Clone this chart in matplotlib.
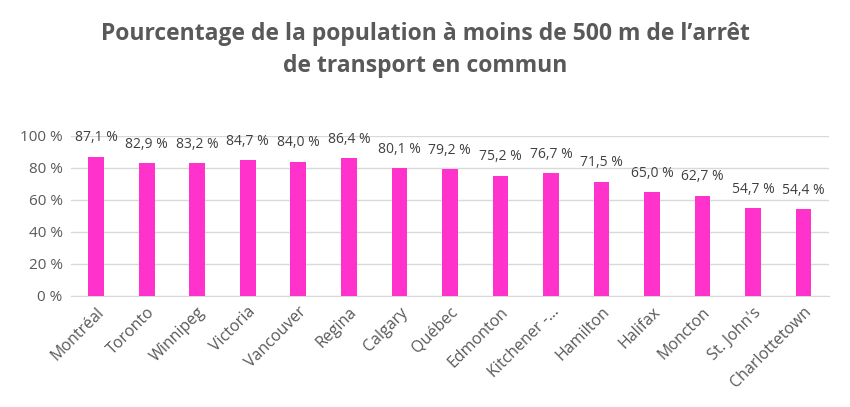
import matplotlib.pyplot as plt
import numpy as np

villes = ["Montréal", "Toronto", "Winnipeg", "Victoria", "Vancouver", "Regina",
          "Calgary", "Québec", "Edmonton", "Kitchener -...", "Hamilton", "Halifax",
          "Moncton", "St. John's", "Charlottetown"]
pourcentages = [87.1, 82.9, 83.2, 84.7, 84.0, 86.4, 80.1, 79.2, 75.2, 76.7,
                71.5, 65.0, 62.7, 54.7, 54.4]

plt.rcParams['font.family'] = ['Open Sans', 'DejaVu Sans']

fig = plt.figure(figsize=(8.5, 4.07), dpi=100)
ax = fig.add_axes([0.0835, 0.273, 0.8915, 0.393])

x = np.arange(len(villes))
ax.bar(x, pourcentages, width=0.31, color='#FF33CC', zorder=3)

for xi, v in zip(x, pourcentages):
    lab = f"{v:.1f}".replace(".", ",") + " %"
    ax.annotate(lab, (xi, v), xytext=(0, 8), textcoords='offset points',
                ha='center', va='bottom', fontsize=10, color='#404040')

ax.set_xlim(-0.5, len(villes) - 0.5)
ax.set_ylim(0, 100)
ax.set_yticks(range(0, 101, 20))
ax.set_yticklabels([f"{t} %" for t in range(0, 101, 20)], fontsize=11, color='#595959')
ax.set_xticks(x)
ax.set_xticklabels(villes, rotation=45, ha='right', rotation_mode='anchor',
                   fontsize=11.5, color='#595959')
ax.tick_params(axis='both', length=0, pad=6)
ax.grid(axis='y', color='#D9D9D9', linewidth=1, zorder=0)
for s in ['top', 'right', 'left']:
    ax.spines[s].set_visible(False)
ax.spines['bottom'].set_color('#D9D9D9')

fig.text(0.5, 0.945, "Pourcentage de la population à moins de 500 m de l’arrêt\nde transport en commun",
         ha='center', va='top', fontsize=16.5, fontweight='bold', color='#595959',
         linespacing=1.4)

fig.savefig("out.png", dpi=100)
